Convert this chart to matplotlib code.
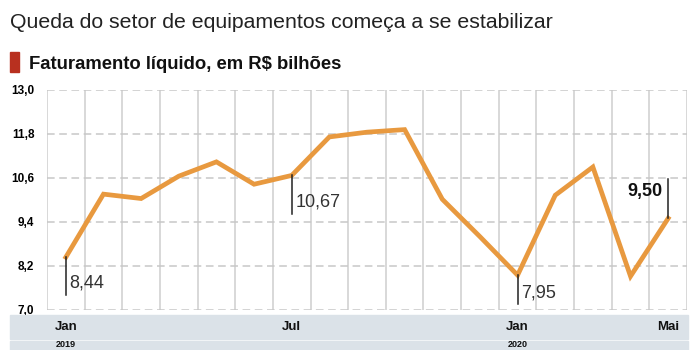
import matplotlib.pyplot as plt
from matplotlib.patches import Rectangle
from matplotlib import transforms

# dados: faturamento mensal jan/2019 a mai/2020
valores = [8.44, 10.16, 10.04, 10.65, 11.04, 10.43, 10.67, 11.72, 11.85, 11.92,
           10.02, 9.00, 7.95, 10.13, 10.90, 7.92, 9.50]
meses_idx = [0, 6, 12, 16]
meses_lbl = ["Jan", "Jul", "Jan", "Mai"]
anos_idx = [0, 12]
anos_lbl = ["2019", "2020"]
yticks = [7.0, 8.2, 9.4, 10.6, 11.8, 13.0]
destaques = [0, 6, 12]   # rótulos abaixo do ponto
destaque_final = 16      # rótulo em negrito acima

plt.rcParams["font.family"] = ["Liberation Sans", "DejaVu Sans"]

fig = plt.figure(figsize=(6.96, 3.5), dpi=100)
W, H = 696, 350
ax = fig.add_axes([47 / W, (H - 310) / H, 640 / W, 220 / H])

x = list(range(len(valores)))
ax.plot(x, valores, color="#E8993F", lw=3.4, solid_joinstyle="miter", zorder=3)

ax.set_xlim(-0.5, len(valores) - 0.5)
ax.set_ylim(7.0, 13.0)

# grade
for k in range(len(valores) + 1):
    ax.axvline(k - 0.5, color="#d2d2d2", lw=1.2, zorder=1)
for t in yticks:
    ax.axhline(t, color="#c8c8c8", lw=1.1, ls=(0, (5, 3)), zorder=1)
for s in ax.spines.values():
    s.set_visible(False)

ax.set_yticks(yticks, [f"{t:.1f}".replace(".", ",") for t in yticks])
ax.tick_params(axis="y", length=0, pad=9, labelsize=8.5)
for lb in ax.get_yticklabels():
    lb.set_fontweight("bold")
ax.set_xticks([])

# rótulos dos valores
for i in destaques:
    v = valores[i]
    baixo = max(v - 1.04, 7.15)
    ax.plot([i, i], [v, baixo], color="#222222", lw=1.1, zorder=4)
    ax.annotate(f"{v:.2f}".replace(".", ","), (i, baixo), xytext=(2.5, 2.5),
                textcoords="offset points", ha="left", va="bottom",
                fontsize=13, color="#333333")

v = valores[destaque_final]
ax.plot([destaque_final, destaque_final], [v, v + 1.07], color="#222222", lw=1.1, zorder=4)
ax.annotate(f"{v:.2f}".replace(".", ","), (destaque_final, v + 0.6), xytext=(-4, 0),
            textcoords="offset points", ha="right", va="baseline",
            fontsize=13, fontweight="bold", color="#111111")

# faixa inferior com meses e anos
fig.add_artist(Rectangle((10 / W, (H - 339) / H), 678 / W, 24 / H,
                         transform=fig.transFigure, color="#dbe2e8", zorder=5))
fig.add_artist(Rectangle((10 / W, 0), 678 / W, (H - 341) / H,
                         transform=fig.transFigure, color="#dbe2e8", zorder=5))
tr = transforms.blended_transform_factory(ax.transData, fig.transFigure)
for i, m in zip(meses_idx, meses_lbl):
    fig.text(i, 1 - 327 / H, m, transform=tr, ha="center", va="center",
             fontsize=9.5, fontweight="bold", color="#111111", zorder=6)
for i, a in zip(anos_idx, anos_lbl):
    fig.text(i, 1 - 349 / H, a, transform=tr, ha="center", va="bottom",
             fontsize=6.5, fontweight="bold", color="#111111", zorder=6)

# títulos
fig.text(10 / W, 1 - 28 / H, "Queda do setor de equipamentos começa a se estabilizar",
         fontsize=15.3, color="#222222", va="baseline", ha="left")
fig.add_artist(Rectangle((10 / W, 1 - 72 / H), 9 / W, 20 / H,
                         transform=fig.transFigure, color="#b8301f"))
fig.text(29 / W, 1 - 69 / H, "Faturamento líquido, em R$ bilhões",
         fontsize=13.3, fontweight="bold", color="#111111", va="baseline", ha="left")

fig.savefig("out.png", dpi=100, facecolor="white")
